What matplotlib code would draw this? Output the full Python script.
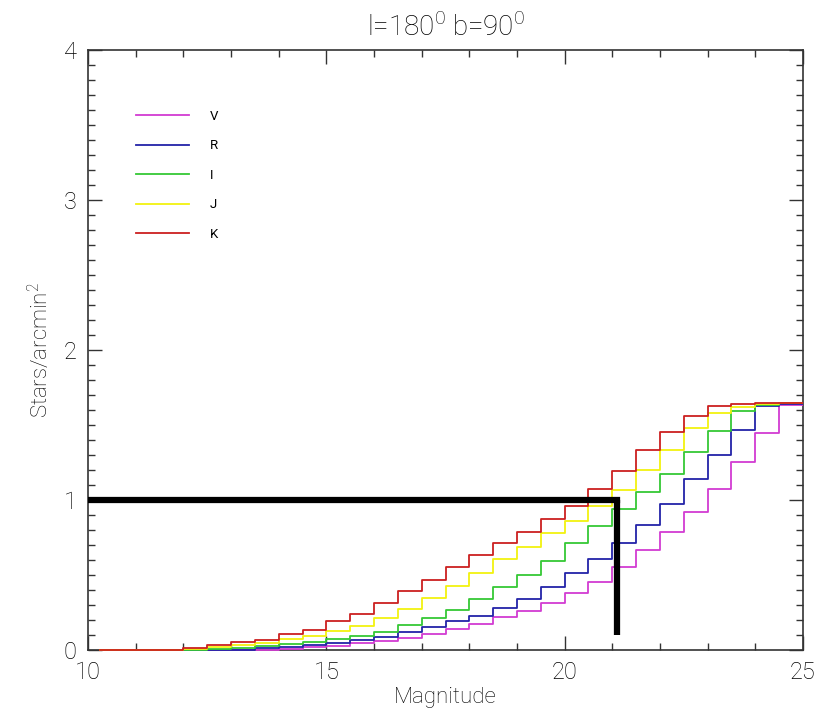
import numpy as np
import matplotlib
matplotlib.use("Agg")
import matplotlib.pyplot as plt
from matplotlib.ticker import MultipleLocator
from matplotlib.transforms import Bbox, TransformedBbox

plt.rcParams['font.family'] = ['Roboto', 'DejaVu Sans']
plt.rcParams['font.weight'] = 'light'
plt.rcParams['mathtext.fontset'] = 'custom'
plt.rcParams['mathtext.rm'] = 'Roboto:light'

# centres des bins de magnitude (largeur 0.5 mag), comme psym=10 en IDL
mag = np.arange(10.25, 25.5, 0.5)

# densité cumulée d'étoiles (étoiles / arcmin^2) par bande
dens_V = [0, 0, 0, 0, 0, 0, 0, 0.002, 0.009, 0.018, 0.027, 0.044, 0.062, 0.081, 0.107, 0.138,
          0.172, 0.218, 0.262, 0.316, 0.382, 0.456, 0.553, 0.664, 0.784, 0.918, 1.073, 1.256,
          1.444, 1.633, 1.645]
dens_R = [0, 0, 0, 0, 0, 0, 0.003, 0.011, 0.022, 0.033, 0.046, 0.067, 0.089, 0.117, 0.153, 0.19,
          0.229, 0.282, 0.34, 0.42, 0.513, 0.607, 0.711, 0.833, 0.975, 1.139, 1.298, 1.467,
          1.625, 1.64, 1.645]
dens_I = [0, 0, 0, 0, 0, 0.004, 0.016, 0.027, 0.04, 0.056, 0.075, 0.096, 0.122, 0.169, 0.21, 0.267,
          0.342, 0.42, 0.503, 0.596, 0.711, 0.827, 0.94, 1.053, 1.175, 1.317, 1.46, 1.593,
          1.63, 1.645, 1.645]
dens_J = [0, 0, 0, 0, 0.004, 0.018, 0.033, 0.049, 0.071, 0.093, 0.125, 0.16, 0.216, 0.27, 0.344, 0.427,
          0.516, 0.609, 0.689, 0.778, 0.862, 0.958, 1.069, 1.198, 1.333, 1.478, 1.582, 1.622,
          1.643, 1.645, 1.645]
dens_K = [0, 0, 0, 0, 0.012, 0.03, 0.052, 0.069, 0.107, 0.133, 0.193, 0.238, 0.316, 0.39, 0.465, 0.551,
          0.636, 0.711, 0.786, 0.871, 0.958, 1.071, 1.196, 1.333, 1.456, 1.56, 1.628, 1.64,
          1.645, 1.645, 1.645]

bandes = ['V', 'R', 'I', 'J', 'K']
series = [dens_V, dens_R, dens_I, dens_J, dens_K]
couleurs = ['#d23cd2', '#2323a8', '#35c835', '#f2f20f', '#cc2020']

# limite : 1 étoile / arcmin^2 atteinte vers mag 21.1
lim_mag = 21.1
lim_dens = 1.0
lim_bas = 0.1

fig = plt.figure(figsize=(8.25, 7.16), dpi=100)
ax = fig.add_axes([0.1067, 0.0922, 0.8666, 0.838])

# on laisse déborder un peu vers le bas pour voir le niveau zéro sur l'axe
clip = TransformedBbox(Bbox([[0, -0.01], [1, 1]]), ax.transAxes)
for nom, y, c in zip(bandes, series, couleurs):
    ln, = ax.step(mag, y, where='mid', color=c, lw=1.3, label=nom, zorder=3)
    ln.set_clip_box(clip)

ax.plot([10, lim_mag], [lim_dens, lim_dens], color='black', lw=4.5, solid_capstyle='projecting', zorder=4)
ax.plot([lim_mag, lim_mag], [lim_dens, lim_bas], color='black', lw=4.5, solid_capstyle='butt', zorder=4)

ax.set_xlim(10, 25)
ax.set_ylim(0, 4)
ax.xaxis.set_major_locator(MultipleLocator(5))
ax.xaxis.set_minor_locator(MultipleLocator(1))
ax.yaxis.set_major_locator(MultipleLocator(1))
ax.yaxis.set_minor_locator(MultipleLocator(0.1))
ax.tick_params(which='both', direction='in', top=True, right=True, width=1.0, color='#333333')
ax.tick_params(which='major', length=10, labelsize=17, pad=8)
ax.tick_params(which='minor', length=5)
for s in ax.spines.values():
    s.set_linewidth(1.2)
    s.set_color('#333333')
    s.set_zorder(2)

ax.set_title(r'l=180$^{\rm 0}$ b=90$^{\rm 0}$', fontsize=20, pad=10, fontweight='light')
ax.set_xlabel('Magnitude', fontsize=16, labelpad=2, fontweight='light')
ax.set_ylabel(r'Stars/arcmin$^{\rm 2}$', fontsize=16, labelpad=8, fontweight='light')

leg = ax.legend(loc='upper left', bbox_to_anchor=(0.067, 0.9), frameon=False,
                prop={'size': 9.5, 'weight': 'normal'},
                handlelength=4.0, handletextpad=1.6, labelspacing=1.25, borderpad=0,
                borderaxespad=0)

fig.savefig('out.png', dpi=100)
